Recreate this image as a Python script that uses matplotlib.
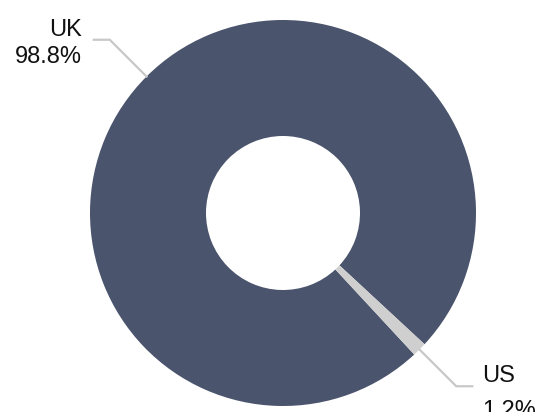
import numpy as np
import matplotlib.pyplot as plt

plt.rcParams["font.family"] = ["Liberation Sans", "DejaVu Sans"]

labels = ["UK", "US"]
shares = [98.8, 1.2]
colors = ["#4a546d", "#cfcfcf"]

fig = plt.figure(figsize=(5.36, 4.12), dpi=100)
ax = fig.add_axes([0, 0, 1, 1])

cx, cy, r = 283, 199, 193
wedges, _ = ax.pie(shares, colors=colors, startangle=-42.84, counterclock=True,
                   center=(cx, cy), radius=r, frame=True,
                   wedgeprops=dict(width=r - 77, linewidth=0))
ax.set_xlim(0, 536)
ax.set_ylim(0, 412)
ax.axis("off")

# leader lines + labels (spacing/offsets per label, as in the original)
spacing = {"UK": 1.3, "US": 1.78}
drop = {"UK": 4, "US": 7}
for w, lab, val in zip(wedges, labels, shares):
    ang = np.deg2rad((w.theta1 + w.theta2) / 2)
    x0, y0 = cx + r * np.cos(ang), cy + r * np.sin(ang)
    x1, y1 = cx + 245 * np.cos(ang), cy + 245 * np.sin(ang)
    side = 1 if np.cos(ang) > 0 else -1
    x2 = x1 + side * 16
    ax.plot([x0, x1, x2], [y0, y1, y1], color="#c8c8c8", lw=1.6,
            solid_joinstyle="miter")
    ax.text(x2 + 10 if side > 0 else x2 - 12, y1 - drop[lab], f"{lab}\n{val}%",
            ha="left" if side > 0 else "right", va="center",
            fontsize=17, color="#111111", linespacing=spacing[lab],
            multialignment="left" if side > 0 else "right")

fig.savefig("out.png", dpi=100)
